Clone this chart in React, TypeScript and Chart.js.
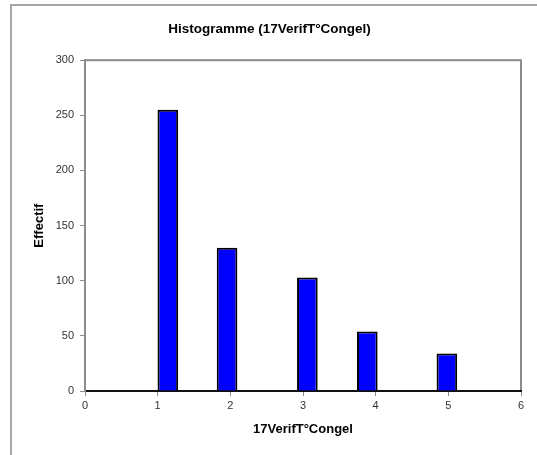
import React, { useEffect, useRef } from "react";
import { Chart, registerables } from "chart.js";

Chart.register(...registerables);

const titleText = "Histogramme (17VerifT°Congel)";
const xAxisTitle = "17VerifT°Congel";
const yAxisTitle = "Effectif";
const binStart = [1.0, 1.81, 2.92, 3.74, 4.84];
const binEnd = [1.28, 2.1, 3.2, 4.03, 5.12];
const counts = [255, 130, 103, 54, 34];
const xMin = 0;
const xMax = 6;
const xStep = 1;
const yMin = 0;
const yMax = 300;
const yStep = 50;

export default function App() {
  const ref = useRef<HTMLCanvasElement | null>(null);

  useEffect(() => {
    if (!ref.current) return;
    const centers = binStart.map((s, i) => (s + binEnd[i]) / 2);
    const widths = binStart.map((s, i) => binEnd[i] - s);
    const avgWidth = widths.reduce((a, b) => a + b, 0) / widths.length;
    let minSpacing = xStep;
    for (let i = 1; i < centers.length; i++) {
      minSpacing = Math.min(minSpacing, centers[i] - centers[i - 1]);
    }
    const barRatio = avgWidth / minSpacing;

    const frame = {
      id: "frame",
      beforeDraw(chart: any) {
        const { ctx, chartArea } = chart;
        ctx.save();
        ctx.strokeStyle = "#8c8c8c";
        ctx.lineWidth = 2;
        ctx.strokeRect(chartArea.left, chartArea.top, chartArea.right - chartArea.left, chartArea.bottom - chartArea.top);
        ctx.restore();
      },
    };

    const chart = new Chart(ref.current, {
      type: "bar",
      data: {
        datasets: [
          {
            data: centers.map((c, i) => ({ x: c, y: counts[i] })),
            backgroundColor: "#0000ff",
            borderColor: "#000000",
            borderWidth: 2,
            categoryPercentage: 1,
            barPercentage: barRatio,
          },
        ],
      },
      options: {
        responsive: false,
        animation: false,
        layout: { padding: { left: 18, right: 16, top: 0, bottom: 0 } },
        plugins: {
          legend: { display: false },
          tooltip: { enabled: false },
          title: {
            display: true,
            text: titleText,
            color: "#000",
            font: { family: "'Liberation Sans', Arial, sans-serif", size: 13.5, weight: "bold" },
            padding: { top: 21, bottom: 23 },
          },
        },
        scales: {
          x: {
            type: "linear",
            min: xMin,
            max: xMax,
            offset: false,
            ticks: {
              stepSize: xStep,
              color: "#333",
              padding: 3,
              font: { family: "'Liberation Sans', Arial, sans-serif", size: 11 },
            },
            grid: { offset: false, drawOnChartArea: false, drawTicks: true, tickLength: 5, color: "#8c8c8c", lineWidth: 1 },
            border: { display: true, color: "#111", width: 2 },
            title: {
              display: true,
              text: xAxisTitle,
              color: "#000",
              font: { family: "'Liberation Sans', Arial, sans-serif", size: 13, weight: "bold" },
              padding: { top: 0, bottom: 17.8 },
            },
            afterFit(scale: any) {
              scale.height = 64;
            },
          },
          y: {
            min: yMin,
            max: yMax,
            ticks: {
              stepSize: yStep,
              color: "#333",
              padding: 6,
              font: { family: "'Liberation Sans', Arial, sans-serif", size: 11 },
            },
            grid: { drawOnChartArea: false, drawTicks: true, tickLength: 5, color: "#8c8c8c", lineWidth: 1 },
            border: { display: true, color: "#8c8c8c", width: 2 },
            title: {
              display: true,
              text: yAxisTitle,
              color: "#000",
              font: { family: "'Liberation Sans', Arial, sans-serif", size: 13, weight: "bold" },
              padding: { top: 14, bottom: 0 },
            },
            afterFit(scale: any) {
              scale.width = 67;
            },
          },
        },
      },
      plugins: [frame],
    });
    return () => chart.destroy();
  }, []);

  return (
    <div style={{ position: "fixed", left: 0, top: 0, width: 537, height: 455, overflow: "hidden", background: "#fff" }}>
      <div
        style={{
          position: "absolute",
          left: 10,
          top: 4,
          width: 700,
          height: 700,
          border: "2px solid #a6a6a6",
          boxSizing: "border-box",
        }}
      />
      <canvas ref={ref} width={537} height={455} style={{ position: "absolute", left: 0, top: 0, width: 537, height: 455 }} />
    </div>
  );
}
